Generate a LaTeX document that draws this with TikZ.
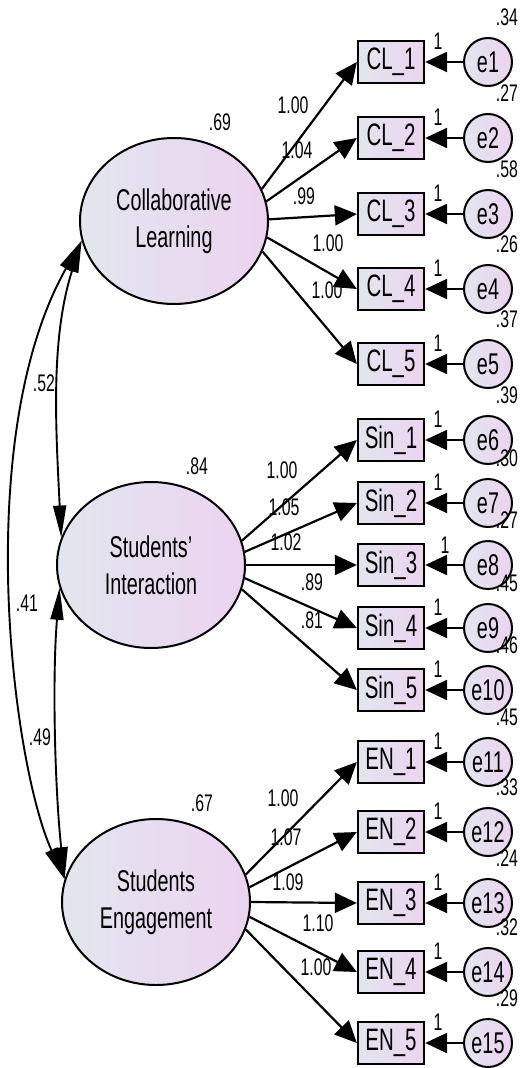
\documentclass[tikz,border=0pt]{standalone}
\usepackage{fontspec}
\setmainfont{Liberation Sans}[FakeStretch=0.66]
\usetikzlibrary{shapes.geometric,arrows.meta}
\definecolor{shadeL}{RGB}{226,230,238}
\definecolor{shadeR}{RGB}{236,211,240}
\tikzset{
  latent/.style={ellipse, draw, line width=2pt, minimum width=188pt, minimum height=166pt,
    inner sep=0pt, left color=shadeL, right color=shadeR, align=center,
    font=\fontsize{30}{37}\selectfont},
  item/.style={rectangle, draw, line width=2.3pt, minimum width=66pt, minimum height=42pt,
    inner sep=0pt, left color=shadeL, right color=shadeR, font=\fontsize{31}{31}\selectfont},
  resid/.style={circle, draw, line width=2pt, minimum size=48pt, inner sep=0pt,
    left color=shadeL, right color=shadeR, font=\fontsize{30}{30}\selectfont},
  est/.style={inner sep=0pt, font=\fontsize{24}{24}\selectfont},
  load/.style={line width=2.2pt, -{Triangle[length=22pt,width=20pt]}},
  cov/.style={line width=1.9pt, {Triangle[length=32pt,width=13pt]}-{Triangle[length=32pt,width=13pt]}},
}
\begin{document}
\begin{tikzpicture}[x=1pt,y=-1pt]
\useasboundingbox (0,0) rectangle (527,1068);

% latent factors
\node[latent] (CL) at (174,221) {Collaborative\\Learning};
\node[latent] (SI) at (151,565) {Students'\\Interaction};
\node[latent] (SE) at (156,902) {Students\\Engagement};

% indicators and their residuals
\foreach \i/\y/\t in {1/62/CL\_1, 2/138/CL\_2, 3/214/CL\_3, 4/289/CL\_4, 5/364/CL\_5,
                      6/440/Sin\_1, 7/503/Sin\_2, 8/565/Sin\_3, 9/628/Sin\_4, 10/690/Sin\_5,
                      11/762/EN\_1, 12/832/EN\_2, 13/903/EN\_3, 14/972/EN\_4, 15/1043/EN\_5}{
  \node[item] (o\i) at (391,\y) {\t};
  \node[resid] (e\i) at (488,\y) {e\i};
  \draw[load] (e\i.west) -- (o\i.east);
}

% residual variances
\foreach \i/\v in {1/.34, 2/.27, 3/.58, 4/.26, 5/.37, 6/.39, 7/.30, 8/.27, 9/.45, 10/.46,
                   11/.45, 12/.33, 13/.24, 14/.32, 15/.29}{
  \node[est] (rv\i) at ([xshift=19pt,yshift=45pt]e\i.center) {\v};
}

% fixed residual paths
\foreach \i in {1,2,3,4,5,6,7,9,10,11,12,13,14,15}{
  \node[est] (f\i) at ([xshift=-50pt,yshift=21pt]e\i.center) {1};
}
\node[est] (f8) at ([xshift=-43pt,yshift=20pt]e8.center) {1};

% factor loadings
\foreach \src/\ang/\i in {CL/20/1, CL/12/2, CL/1/3, CL/350/4, CL/341/5,
                          SI/15/6, SI/8/7, SI/0/8, SI/352/9, SI/345/10,
                          SE/17/11, SE/9/12, SE/0/13, SE/351/14, SE/343/15}{
  \draw[load] (\src.\ang) -- (o\i.west);
}

% loading estimates
\foreach \x/\y/\v in {293/105/1.00, 297/150/1.04, 304/196/.99, 328/243/1.00, 327/290/1.00,
                      282/470/1.00, 284/507/1.05, 286/542/1.02, 312/582/.89, 312/620/.81,
                      283/798/1.00, 286/837/1.07, 288/882/1.09, 318/923/1.10, 316/967/1.00}{
  \node[est] at (\x,\y) {\v};
}

% factor variances
\node[est] (vCL) at (220,122) {.69};
\node[est] (vSI) at (197,466) {.84};
\node[est] (vSE) at (202,803) {.67};

% covariances between factors
\draw[cov] (CL.192) .. controls (50,340) and (56,430) .. (SI.163);
\draw[cov] (SI.194) .. controls (52,680) and (55,790) .. (SE.166);
\draw[cov] (CL.192) .. controls (-29,437) and (12,763) .. (SE.166);
\node[est] (c1) at (44,383) {.52};
\node[est] (c2) at (27,603) {.41};
\node[est] (c3) at (40,737) {.49};
\end{tikzpicture}
\end{document}
